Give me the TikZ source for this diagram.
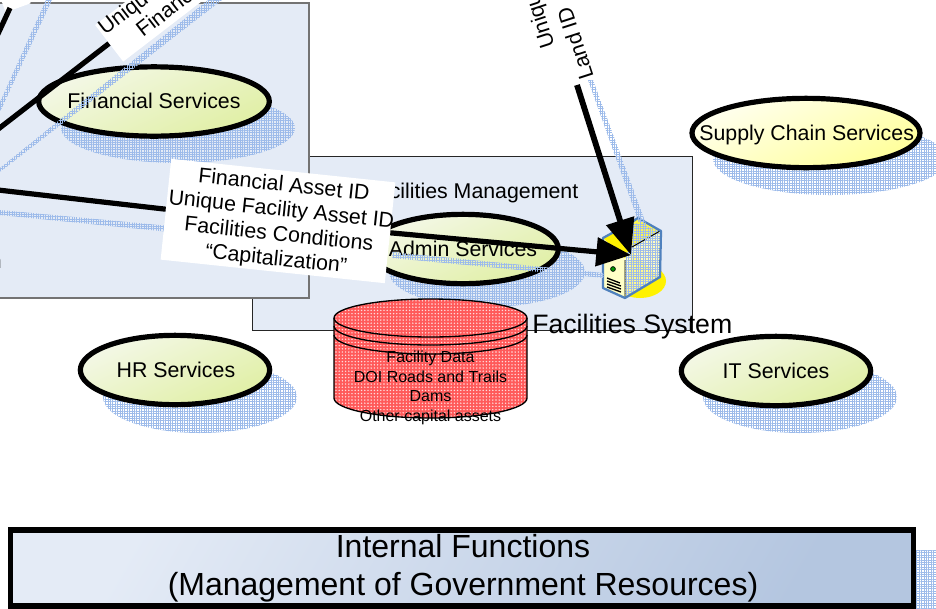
\documentclass[tikz,border=0pt]{standalone}
\usepackage{fontspec}
\setmainfont{Liberation Sans}
\usetikzlibrary{shapes.geometric,arrows.meta,patterns.meta}
\definecolor{panelblue}{HTML}{E4EBF6}
\definecolor{shadowblue}{HTML}{9DBBEA}
\definecolor{srvblue}{HTML}{4F81BD}
\definecolor{bannerblue}{HTML}{B4C6E0}
\definecolor{F4F8E8}{HTML}{F4F8E8}
\definecolor{DDEBA6}{HTML}{E0EFA4}
\definecolor{FFFFF0}{HTML}{FFFFF0}
\definecolor{FFFF99}{HTML}{FFFF99}
\definecolor{cylred}{HTML}{FF5A5A}
\tikzset{
  x=0.75pt,y=-0.75pt,
  fnt/.style={font=\fontsize{16}{18.6}\selectfont},
  panel/.style={draw=#1,fill=panelblue,line width=0.7pt},
  shadowpat/.style={pattern={Hatch[distance=1.8pt,angle=0,line width=.5pt]},pattern color=shadowblue},
  strip/.style={pattern={Hatch[distance=1.8pt,angle=0,line width=.5pt]},pattern color=shadowblue,fill opacity=.8},
  greensvc/.style={ellipse,draw=black,line width=3.9pt,inner sep=0pt,top color=F4F8E8,bottom color=DDEBA6,shading angle=25},
  yellowsvc/.style={ellipse,draw=black,line width=3.9pt,inner sep=0pt,top color=FFFFF0,bottom color=FFFF99,shading angle=25},
  conn/.style={draw=black,line width=3.9pt},
  bigarrow/.style={conn,-{Triangle[length=26pt,width=21pt]}},
  whitebox/.style={fill=white,inner sep=0pt},
}
\begin{document}
\begin{tikzpicture}
\useasboundingbox (0,0) rectangle (936,608);
\clip (0,0) rectangle (936,608);
% panels
\path[panel=black!85] (252,156) rectangle (692,330);
\path[panel=black!55,line width=1pt] (-20,3) rectangle (309,298);
\node[fnt,anchor=east] (fmtitle) at (583,193) {Facilities Management};
% ellipse shadows
\fill[shadowpat] (178,128) ellipse [x radius=117,y radius=35];
\fill[shadowpat] (487,272) ellipse [x radius=98,y radius=35];
\fill[shadowpat] (200,397) ellipse [x radius=97,y radius=36];
\fill[shadowpat] (800,397) ellipse [x radius=97,y radius=36];
\fill[shadowpat] (830,159) ellipse [x radius=117,y radius=36];
\fill[shadowpat] (916,550) rectangle (940,610);
% server
\fill[yellow] (640,281) ellipse [x radius=26,y radius=17];
\fill[FFFF99!55!white] (603,238) -- (632,222) -- (638,218) -- (661,231) -- (660,277) -- (625,298) -- (603,288) -- cycle;
\fill[yellow!70!white] (632,222) -- (638,218) -- (661,231) -- (632,247) -- cycle;
\fill[yellow] (603,238) -- (632,222) -- (632,247) -- (625,258) -- cycle;
\fill[yellow!45!white] (632,252) -- (660,277) -- (625,298) -- cycle;
\fill[yellow!25!white] (632,252) -- (661,231) -- (660,277) -- cycle;
\fill[strip] (632,222) -- (661,231) -- (660,277) -- (625,298) -- (625,262) -- cycle;
\draw[black,line width=.7pt] (625,298) -- (625,260) (632,247) -- (660,231);
\draw[black,line width=1pt] (607,278) -- (620,283) (607,281) -- (621,286) (607,284) -- (621,289) (607,287) -- (621,292);
\filldraw[fill=green!60!black,draw=black,line width=.5pt] (613,269) circle [radius=2.4];
\draw[srvblue,line width=1.7pt,line join=round] (603,238) -- (632,222) -- (638,218) -- (661,231) -- (660,277) -- (625,298) -- (603,288) -- cycle;
\coordinate (server) at (631,255);
\coordinate (landstart) at (577,85);
\coordinate (leftedge) at (-2,190);
% ellipses
\node[greensvc,minimum width=173pt,minimum height=52pt,label={[fnt,yshift=.6pt]center:Financial Services}] (fin) at (154,101.5) {};
\node[greensvc,minimum width=143pt,minimum height=52pt,label={[fnt]center:Admin Services}] (admin) at (463,249) {};
\node[greensvc,minimum width=142pt,minimum height=52pt,label={[fnt,xshift=.7pt]center:HR Services}] (hr) at (175,370) {};
\node[greensvc,minimum width=142pt,minimum height=52pt,label={[fnt]center:IT Services}] (it) at (776,371) {};
\node[yellowsvc,minimum width=171pt,minimum height=52pt,label={[fnt,yshift=-1.5pt,xshift=.5pt]center:Supply Chain Services}] (supply) at (806,133) {};
% connector shadows
\fill[strip] (0,102) -- (46,0) -- (52,0) -- (0,112) -- cycle;
\fill[strip] (0,168) -- (208,0) -- (222,0) -- (0,172) -- cycle;
\fill[strip] (0,210) -- (170,226) -- (170,232) -- (0,215) -- cycle;
\fill[strip] (392,252) -- (604,273) -- (604,278) -- (392,258) -- cycle;
\fill[strip] (588,80) -- (593,80) -- (652,240) -- (645,240) -- cycle;
% cylinder
\fill[cylred] (334,318) -- (334,398) arc[start angle=180,end angle=0,x radius=96.5,y radius=20] -- (527,318) arc[start angle=0,end angle=-180,x radius=96.5,y radius=19] -- cycle;
\fill[pattern={Dots[distance=2.4pt,radius=.6pt]},pattern color=white,fill opacity=.8] (334,318) -- (334,398) arc[start angle=180,end angle=0,x radius=96.5,y radius=20] -- (527,318) arc[start angle=0,end angle=-180,x radius=96.5,y radius=19] -- cycle;
\draw[black,line width=1pt] (334,318) -- (334,398) arc[start angle=180,end angle=0,x radius=96.5,y radius=20] -- (527,318);
\draw[black,line width=1pt] (430.5,318) ellipse [x radius=96.5,y radius=19];
\draw[black,line width=1pt] (334,326) arc[start angle=180,end angle=0,x radius=96.5,y radius=19];
\draw[black,line width=1pt] (334,335) arc[start angle=180,end angle=0,x radius=96.5,y radius=19];
\node[font=\fontsize{12}{14.7}\selectfont,align=center,inner sep=0pt] (cyldata) at (430.5,388) {Facility Data\\DOI Roads and Trails\\Dams\\Other capital assets};
% labels and connectors
\node[whitebox,minimum width=169pt,minimum height=76pt,rotate=-6] (asset) at (278,221) {};
\node[fnt,align=center,rotate=-6,inner sep=0pt] (assettext) at (280,223) {Financial Asset ID\\Unique Facility Asset ID\\Facilities Conditions\\“Capitalization”};
\path[conn] (leftedge) -- (asset.west);
\path[bigarrow] (asset.east) -- (server);
\path[draw=black,line width=4.4pt,-{Triangle[length=27pt,width=21pt]}] (landstart) -- (server);
\coordinate (finedge) at (-3,130);
\node[whitebox,rotate=37.5,anchor=west,minimum width=170pt,minimum height=34.5pt] (finlabel) at (109,43.5) {};
\path[conn] (finedge) -- (finlabel.west);
\node[fnt,rotate=37.5,anchor=base west,inner sep=0pt] (uniqa) at (105,36) {Unique};
\node[fnt,rotate=37.5,anchor=base west,inner sep=0pt] (fina) at (143,38) {Financial};
\node[whitebox,rotate=20,minimum width=20pt,minimum height=14pt] (topleftlabel) at (15,-1) {};
\coordinate (topleftedge) at (-3,36);
\coordinate (topleftend) at (10,8);
\path[conn] (topleftedge) -- (topleftend);
\node[fnt,rotate=108,anchor=base west,inner sep=0pt] (uniqb) at (555,46) {Unique};
\node[fnt,rotate=108,anchor=base west,inner sep=0pt] (landb) at (594,77) {Land ID};
\node[anchor=west,inner sep=0pt,font=\fontsize{20}{24}\selectfont] (fsys) at (532,327) {Facilities System};
\node[anchor=base east,inner sep=0pt,fnt] (cutn) at (2,268) {n};
% bottom banner
\node[draw=black,line width=4pt,top color=panelblue,bottom color=bannerblue,shading angle=60,minimum width=677pt,minimum height=57pt,anchor=north west,inner sep=0pt,outer sep=0pt] (banner) at (10.5,530) {};
\node[font=\fontsize{24}{28.5}\selectfont,align=center,inner sep=0pt] (bannertext) at (463,568.5) {Internal Functions\\(Management of Government Resources)};
\end{tikzpicture}
\end{document}
